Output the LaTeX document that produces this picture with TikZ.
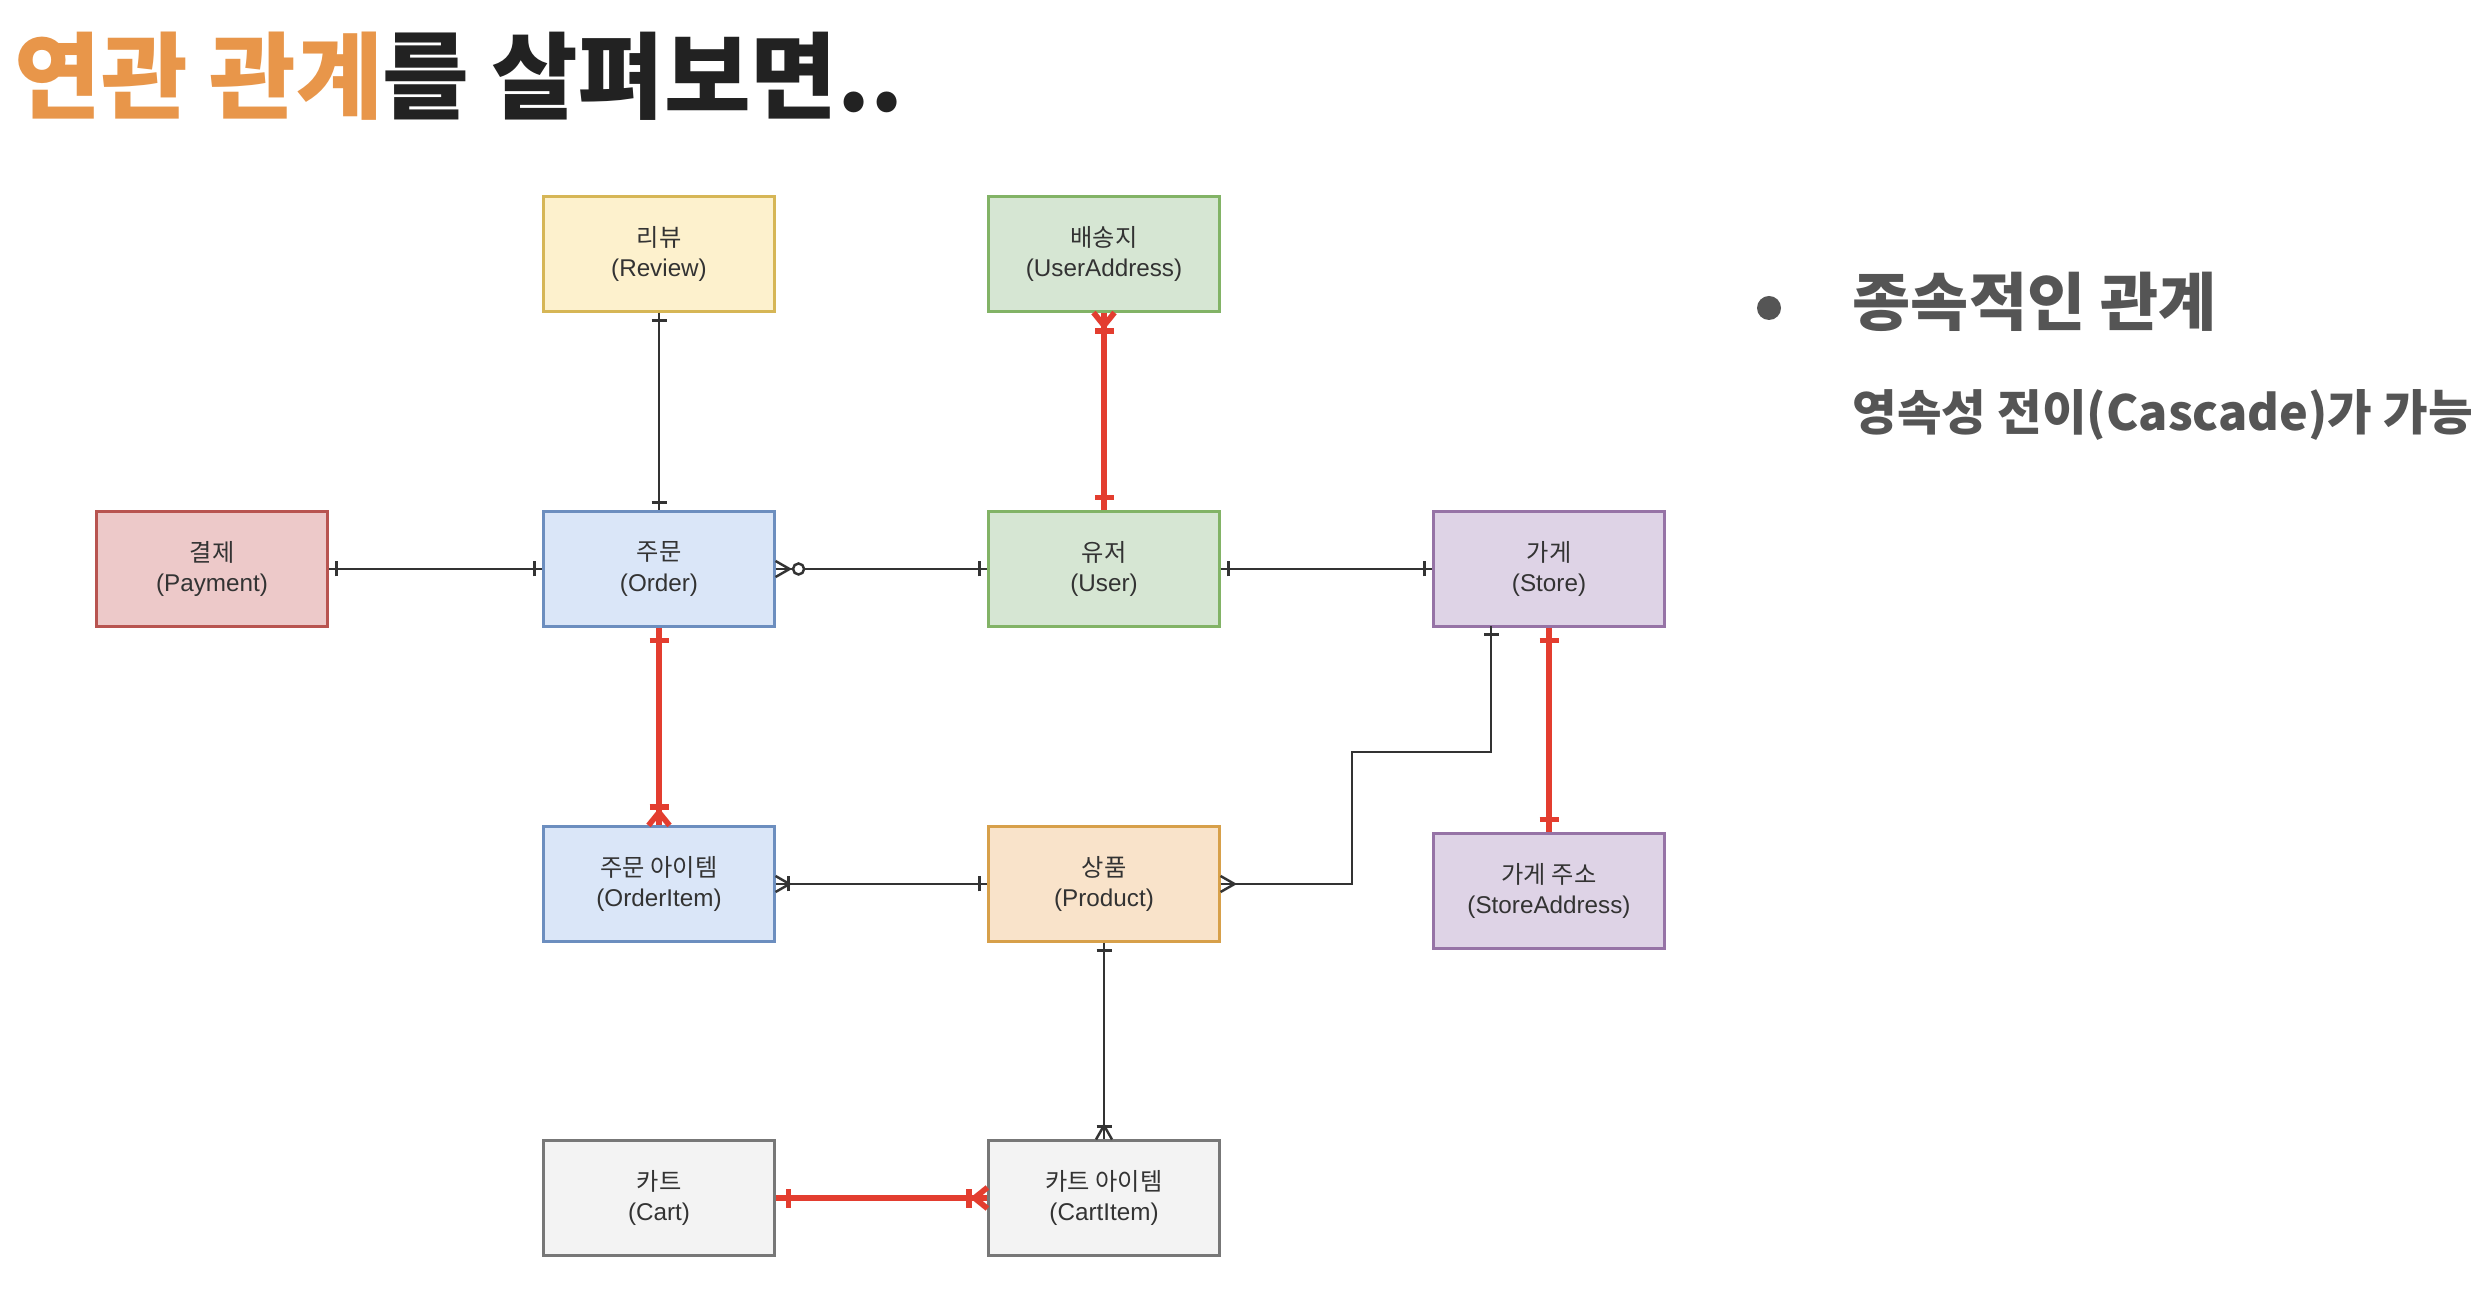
\documentclass[tikz,border=0pt]{standalone}
\usepackage{fontspec}
\setmainfont{Liberation Sans}
\newfontfamily\krfont{Noto Sans CJK KR}
\usetikzlibrary{arrows.meta,calc,positioning,decorations.markings}
\definecolor{titleorange}{HTML}{E8964A}
\definecolor{titledark}{HTML}{222222}
\definecolor{notegray}{HTML}{555555}
\definecolor{linegray}{HTML}{333333}
\definecolor{boxtext}{HTML}{333333}
\definecolor{cascadered}{HTML}{E33D2F}
\definecolor{reviewfill}{HTML}{FDF1CD}
\definecolor{reviewdraw}{HTML}{D6B656}
\definecolor{greenfill}{HTML}{D6E6D3}
\definecolor{greendraw}{HTML}{82B366}
\definecolor{payfill}{HTML}{EDC9C9}
\definecolor{paydraw}{HTML}{B85450}
\definecolor{bluefill}{HTML}{DAE6F8}
\definecolor{bluedraw}{HTML}{6C8EBF}
\definecolor{purplefill}{HTML}{DED3E6}
\definecolor{purpledraw}{HTML}{9673A6}
\definecolor{productfill}{HTML}{F9E3CA}
\definecolor{productdraw}{HTML}{D7A04A}
\definecolor{grayfill}{HTML}{F3F3F3}
\definecolor{graydraw}{HTML}{777777}
\newcommand{\ername}[2]{{\krfont #1}\\(#2)}
\tikzset{
  entity/.style={draw, line width=0.6pt, minimum width=23.1mm, minimum height=11.5mm, align=center, inner sep=0pt, text=boxtext, font=\fontsize{6.9}{8.6}\selectfont},
  reviewbox/.style={entity, fill=reviewfill, draw=reviewdraw},
  greenbox/.style={entity, fill=greenfill, draw=greendraw},
  paybox/.style={entity, fill=payfill, draw=paydraw},
  bluebox/.style={entity, fill=bluefill, draw=bluedraw},
  purplebox/.style={entity, fill=purplefill, draw=purpledraw},
  productbox/.style={entity, fill=productfill, draw=productdraw},
  graybox/.style={entity, fill=grayfill, draw=graydraw},
  erline/.style={draw=linegray, line width=0.7pt, /utils/exec={\def\tickgap{0.8mm}\def\tickhalf{0.75mm}\def\footlen{1.4mm}\def\foothalf{0.8mm}\def\footbar{1.3mm}}},
  casline/.style={draw=cascadered, line width=1.6pt, /utils/exec={\def\tickgap{1.3mm}\def\tickhalf{0.95mm}\def\footlen{1.3mm}\def\foothalf{1.05mm}\def\footbar{1.85mm}}},
  onestart/.style={postaction={decorate, decoration={markings, mark=at position \tickgap with {\draw (0,-\tickhalf) -- (0,\tickhalf);}}}},
  oneend/.style={postaction={decorate, decoration={markings, mark=at position -\tickgap with {\draw (0,-\tickhalf) -- (0,\tickhalf);}}}},
  manystart/.style={postaction={decorate, decoration={markings, mark=at position \footlen with {\draw (-\footlen,\foothalf) -- (0,0) -- (-\footlen,-\foothalf);}}}},
  onemanystart/.style={manystart, postaction={decorate, decoration={markings, mark=at position \footbar with {\draw (0,-\tickhalf) -- (0,\tickhalf);}}}},
  onemanyend/.style={postaction={decorate, decoration={markings, mark=at position -\footlen with {\draw (\footlen,\foothalf) -- (0,0) -- (\footlen,-\foothalf);}, mark=at position -\footbar with {\draw (0,-\tickhalf) -- (0,\tickhalf);}}}},
  zeromanystart/.style={manystart, postaction={decorate, decoration={markings, mark=at position 2.3mm with {\draw[fill=white] (0,0) circle (0.55mm);}}}}
}

\begin{document}
\begin{tikzpicture}[x=0.1mm, y=-0.1mm]
  \useasboundingbox (0,0) rectangle (2492,1302);
  \fill[white] (0,0) rectangle (2492,1302);
  % title
  \node[anchor=west, inner sep=0pt, font=\krfont\bfseries\fontsize{26.8}{30}\selectfont] (title) at (14,76) {\textcolor{titleorange}{연관 관계}\textcolor{titledark}{를 살펴보면..}};
  % note on the right
  \fill[notegray] (1769,308) circle (12);
  \node[anchor=west, inner sep=0pt, text=notegray, font=\krfont\bfseries\fontsize{18}{22}\selectfont] (note) at (1852,302) {종속적인 관계};
  \node[anchor=west, inner sep=0pt, text=notegray, font=\krfont\bfseries\fontsize{13.8}{18}\selectfont] (cascade) at (1852,415) {영속성 전이(Cascade)가 가능};
  % entities
  \node[reviewbox] (review) at (659,254) {\ername{리뷰}{Review}};
  \node[greenbox] (useraddr) at (1104,254) {\ername{배송지}{UserAddress}};
  \node[paybox] (payment) at (212,569) {\ername{결제}{Payment}};
  \node[bluebox] (order) at (659,569) {\ername{주문}{Order}};
  \node[greenbox] (user) at (1104,569) {\ername{유저}{User}};
  \node[purplebox] (store) at (1549,569) {\ername{가게}{Store}};
  \node[bluebox] (orderitem) at (659,884) {\ername{주문 아이템}{OrderItem}};
  \node[productbox] (product) at (1104,884) {\ername{상품}{Product}};
  \node[purplebox] (storeaddr) at (1549,891) {\ername{가게 주소}{StoreAddress}};
  \node[graybox] (cart) at (659,1198) {\ername{카트}{Cart}};
  \node[graybox] (cartitem) at (1104,1198) {\ername{카트 아이템}{CartItem}};
  % plain relations
  \draw[erline, onestart, oneend] (review) -- (order);
  \draw[erline, onestart, oneend] (payment) -- (order);
  \draw[erline, zeromanystart, oneend] (order) -- (user);
  \draw[erline, onestart, oneend] (user) -- (store);
  \draw[erline, onemanystart, oneend] (orderitem) -- (product);
  \draw[erline, onestart, onemanyend] (product) -- (cartitem);
  \coordinate (bend) at (1352,752);
  \coordinate (storefoot) at (1491,626.5);
  \draw[erline, manystart, oneend] (product.east) -| (bend) -| (storefoot);
  % cascade relations
  \draw[casline, onestart, onemanyend] (user) -- (useraddr);
  \draw[casline, onestart, onemanyend] (order) -- (orderitem);
  \draw[casline, onestart, oneend] (store) -- (storeaddr);
  \draw[casline, onestart, onemanyend] (cart) -- (cartitem);
\end{tikzpicture}
\end{document}
